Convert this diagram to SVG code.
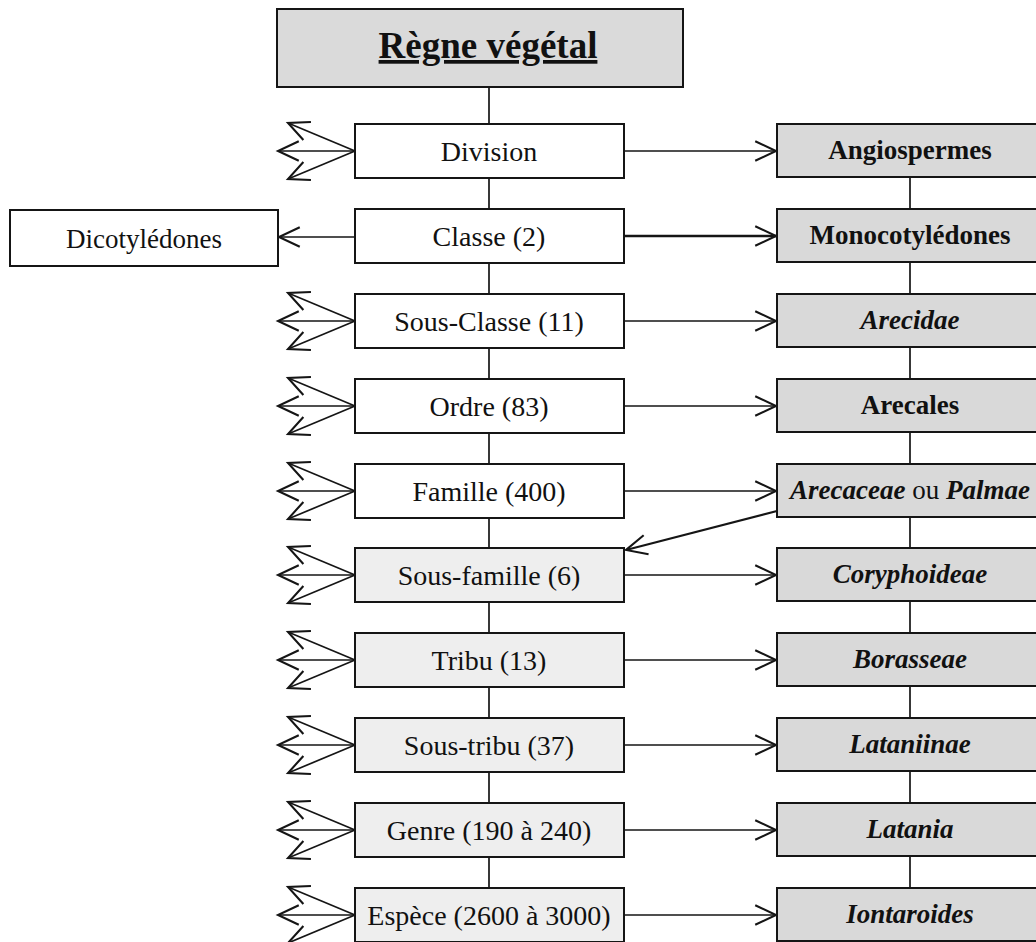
<svg xmlns="http://www.w3.org/2000/svg" width="1036" height="942" viewBox="0 0 1036 942">
<style>
.bx{stroke:#151515;stroke-width:2}
.w{fill:#ffffff}
.l{fill:#eeeeee}
.g{fill:#d9d9d9}
.t{fill:#dadada}
.c{stroke:#151515;stroke-width:1.7;fill:none}
.lt{font-family:"Liberation Serif","Times New Roman",serif;font-size:28px;fill:#111;text-anchor:middle}
.rt{font-family:"Liberation Serif","Times New Roman",serif;font-size:27px;font-weight:bold;fill:#111;text-anchor:middle}
.i{font-style:italic}
</style>
<defs>
<marker id="ah" markerUnits="userSpaceOnUse" markerWidth="30" markerHeight="30" viewBox="-22 -12 26 24" refX="0" refY="0" orient="auto" overflow="visible">
<path d="M-18,-8.5 L0,0 L-18,8.5" fill="none" stroke="#151515" stroke-width="1.8"/>
</marker>
</defs>
<rect width="1036" height="942" fill="#ffffff"/>
<g id="connectors">
<line class="c" x1="489" y1="87" x2="489" y2="888"/>
<line class="c" x1="910" y1="176" x2="910" y2="888"/>
<line class="c" x1="624" y1="151" x2="776" y2="151" marker-end="url(#ah)"/>
<line class="c" x1="624" y1="236" x2="776" y2="236" marker-end="url(#ah)" style="stroke-width:2.6"/>
<line class="c" x1="624" y1="321" x2="776" y2="321" marker-end="url(#ah)"/>
<line class="c" x1="624" y1="406" x2="776" y2="406" marker-end="url(#ah)"/>
<line class="c" x1="624" y1="491" x2="776" y2="491" marker-end="url(#ah)"/>
<line class="c" x1="624" y1="575" x2="776" y2="575" marker-end="url(#ah)"/>
<line class="c" x1="624" y1="660" x2="776" y2="660" marker-end="url(#ah)"/>
<line class="c" x1="624" y1="745" x2="776" y2="745" marker-end="url(#ah)"/>
<line class="c" x1="624" y1="830" x2="776" y2="830" marker-end="url(#ah)"/>
<line class="c" x1="624" y1="915" x2="776" y2="915" marker-end="url(#ah)"/>
<line class="c" x1="355" y1="237" x2="279" y2="237" marker-end="url(#ah)"/>
<line class="c" x1="777" y1="511" x2="626" y2="550" marker-end="url(#ah)" style="stroke-width:2.2"/>
<g id="left-arrows">
<line class="c" x1="355" y1="151" x2="278" y2="151" marker-end="url(#ah)"/>
<line class="c" x1="355" y1="151" x2="288" y2="123" marker-end="url(#ah)"/>
<line class="c" x1="355" y1="151" x2="288" y2="179" marker-end="url(#ah)"/>
<line class="c" x1="355" y1="321" x2="278" y2="321" marker-end="url(#ah)"/>
<line class="c" x1="355" y1="321" x2="288" y2="293" marker-end="url(#ah)"/>
<line class="c" x1="355" y1="321" x2="288" y2="349" marker-end="url(#ah)"/>
<line class="c" x1="355" y1="406" x2="278" y2="406" marker-end="url(#ah)"/>
<line class="c" x1="355" y1="406" x2="288" y2="378" marker-end="url(#ah)"/>
<line class="c" x1="355" y1="406" x2="288" y2="434" marker-end="url(#ah)"/>
<line class="c" x1="355" y1="491" x2="278" y2="491" marker-end="url(#ah)"/>
<line class="c" x1="355" y1="491" x2="288" y2="463" marker-end="url(#ah)"/>
<line class="c" x1="355" y1="491" x2="288" y2="519" marker-end="url(#ah)"/>
<line class="c" x1="355" y1="575" x2="278" y2="575" marker-end="url(#ah)"/>
<line class="c" x1="355" y1="575" x2="288" y2="547" marker-end="url(#ah)"/>
<line class="c" x1="355" y1="575" x2="288" y2="603" marker-end="url(#ah)"/>
<line class="c" x1="355" y1="660" x2="278" y2="660" marker-end="url(#ah)"/>
<line class="c" x1="355" y1="660" x2="288" y2="632" marker-end="url(#ah)"/>
<line class="c" x1="355" y1="660" x2="288" y2="688" marker-end="url(#ah)"/>
<line class="c" x1="355" y1="745" x2="278" y2="745" marker-end="url(#ah)"/>
<line class="c" x1="355" y1="745" x2="288" y2="717" marker-end="url(#ah)"/>
<line class="c" x1="355" y1="745" x2="288" y2="773" marker-end="url(#ah)"/>
<line class="c" x1="355" y1="830" x2="278" y2="830" marker-end="url(#ah)"/>
<line class="c" x1="355" y1="830" x2="288" y2="802" marker-end="url(#ah)"/>
<line class="c" x1="355" y1="830" x2="288" y2="858" marker-end="url(#ah)"/>
<line class="c" x1="355" y1="915" x2="278" y2="915" marker-end="url(#ah)"/>
<line class="c" x1="355" y1="915" x2="288" y2="887" marker-end="url(#ah)"/>
<line class="c" x1="355" y1="915" x2="288" y2="943" marker-end="url(#ah)"/>
</g>
</g>
<g id="regne">
<rect class="bx t" x="277" y="9" width="406" height="78"/>
<text x="488" y="58" style="font-family:'Liberation Serif',serif;font-size:37px;font-weight:bold;fill:#111;text-anchor:middle;text-decoration:underline">Règne végétal</text>
</g>
<g id="division"><rect class="bx w" x="355" y="124" width="269" height="54"/><text class="lt" x="489" y="161">Division</text></g>
<g id="classe"><rect class="bx w" x="355" y="209" width="269" height="54"/><text class="lt" x="489" y="246">Classe (2)</text></g>
<g id="sous-classe"><rect class="bx w" x="355" y="294" width="269" height="54"/><text class="lt" x="489" y="331">Sous-Classe (11)</text></g>
<g id="ordre"><rect class="bx w" x="355" y="379" width="269" height="54"/><text class="lt" x="489" y="416">Ordre (83)</text></g>
<g id="famille"><rect class="bx w" x="355" y="464" width="269" height="54"/><text class="lt" x="489" y="501">Famille (400)</text></g>
<g id="sous-famille"><rect class="bx l" x="355" y="548" width="269" height="54"/><text class="lt" x="489" y="585">Sous-famille (6)</text></g>
<g id="tribu"><rect class="bx l" x="355" y="633" width="269" height="54"/><text class="lt" x="489" y="670">Tribu (13)</text></g>
<g id="sous-tribu"><rect class="bx l" x="355" y="718" width="269" height="54"/><text class="lt" x="489" y="755">Sous-tribu (37)</text></g>
<g id="genre"><rect class="bx l" x="355" y="803" width="269" height="54"/><text class="lt" x="489" y="840">Genre (190 à 240)</text></g>
<g id="espece"><rect class="bx l" x="355" y="888" width="269" height="54"/><text class="lt" x="489" y="925">Espèce (2600 à 3000)</text></g>
<g id="dicotyledones"><rect class="bx w" x="10" y="210" width="268" height="56"/><text class="lt" x="144" y="248" style="font-size:27px">Dicotylédones</text></g>
<g id="angiospermes"><rect class="bx g" x="777" y="124" width="268" height="53"/><text class="rt" x="910" y="159">Angiospermes</text></g>
<g id="monocotyledones"><rect class="bx g" x="777" y="209" width="268" height="53"/><text class="rt" x="910" y="244">Monocotylédones</text></g>
<g id="arecidae"><rect class="bx g" x="777" y="294" width="268" height="53"/><text class="rt i" x="910" y="329">Arecidae</text></g>
<g id="arecales"><rect class="bx g" x="777" y="379" width="268" height="53"/><text class="rt" x="910" y="414">Arecales</text></g>
<g id="arecaceae"><rect class="bx g" x="777" y="464" width="268" height="53"/><text class="rt" x="910" y="499"><tspan class="i">Arecaceae</tspan><tspan style="font-weight:normal"> ou </tspan><tspan class="i">Palmae</tspan></text></g>
<g id="coryphoideae"><rect class="bx g" x="777" y="548" width="268" height="53"/><text class="rt i" x="910" y="583">Coryphoideae</text></g>
<g id="borasseae"><rect class="bx g" x="777" y="633" width="268" height="53"/><text class="rt i" x="910" y="668">Borasseae</text></g>
<g id="lataniinae"><rect class="bx g" x="777" y="718" width="268" height="53"/><text class="rt i" x="910" y="753">Lataniinae</text></g>
<g id="latania"><rect class="bx g" x="777" y="803" width="268" height="53"/><text class="rt i" x="910" y="838">Latania</text></g>
<g id="iontaroides"><rect class="bx g" x="777" y="888" width="268" height="53"/><text class="rt i" x="910" y="923">Iontaroides</text></g>
</svg>
